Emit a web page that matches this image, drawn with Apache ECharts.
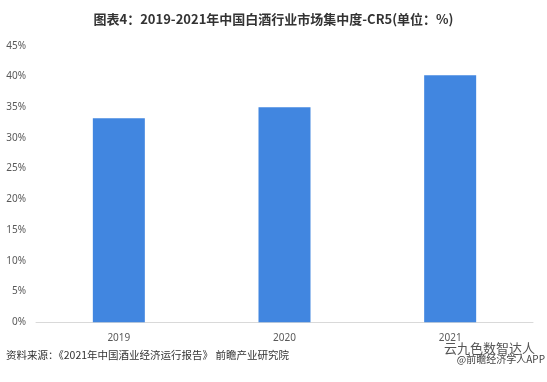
<!DOCTYPE html>
<html>
<head>
<meta charset="utf-8">
<script src="https://cdn.jsdelivr.net/npm/echarts@6/dist/echarts.min.js"></script>
<style>
html,body{margin:0;padding:0;background:#fff;}
#main{width:547px;height:382px;}
</style>
</head>
<body>
<div id="main"></div>
<script>
var titleText = '图表4：2019-2021年中国白酒行业市场集中度-CR5(单位：%)';
var sourceText = '资料来源：《2021年中国酒业经济运行报告》 前瞻产业研究院';
var categories = ['2019', '2020', '2021'];
var cr5Values = [33.2, 35.0, 40.2];
var yTicks = [0, 5, 10, 15, 20, 25, 30, 35, 40, 45];

var chart = echarts.init(document.getElementById('main'));
chart.setOption({
  animation: false,
  backgroundColor: '#fff',
  title: {
    text: titleText,
    left: 'center',
    top: 8,
    textStyle: { fontSize: 13, fontWeight: 'bold', color: '#333', fontFamily: 'Noto Sans CJK SC' }
  },
  graphic: [
    { type: 'text', left: 6, top: 350, style: { text: sourceText, fontSize: 10.5, fill: '#333', fontFamily: 'Noto Sans CJK SC' } },
    { type: 'text', right: 12, top: 342, style: { text: '云九色数智达人', fontSize: 13, fill: '#555', fontFamily: 'Noto Sans CJK SC' } },
    { type: 'text', right: 2, top: 354, style: { text: '@前瞻经济学人APP', fontSize: 10, fill: '#444', fontFamily: 'Noto Sans CJK SC' } }
  ],
  grid: { left: 36, right: 14, top: 45.7, bottom: 59.7, containLabel: false },
  xAxis: {
    type: 'category',
    data: categories,
    axisLine: { lineStyle: { color: '#d9d9d9' } },
    axisTick: { show: false },
    axisLabel: { color: '#595959', fontSize: 10, margin: 11, fontFamily: 'Noto Sans' }
  },
  yAxis: {
    type: 'value',
    min: yTicks[0],
    max: yTicks[yTicks.length - 1],
    interval: 5,
    axisLine: { show: false },
    axisTick: { show: false },
    splitLine: { show: false },
    axisLabel: { color: '#595959', fontSize: 10, margin: 10, formatter: '{value}%', fontFamily: 'Noto Sans' }
  },
  series: [{
    type: 'bar',
    data: cr5Values,
    barWidth: 52,
    itemStyle: { color: '#4186E0' }
  }]
});
</script>
</body>
</html>
